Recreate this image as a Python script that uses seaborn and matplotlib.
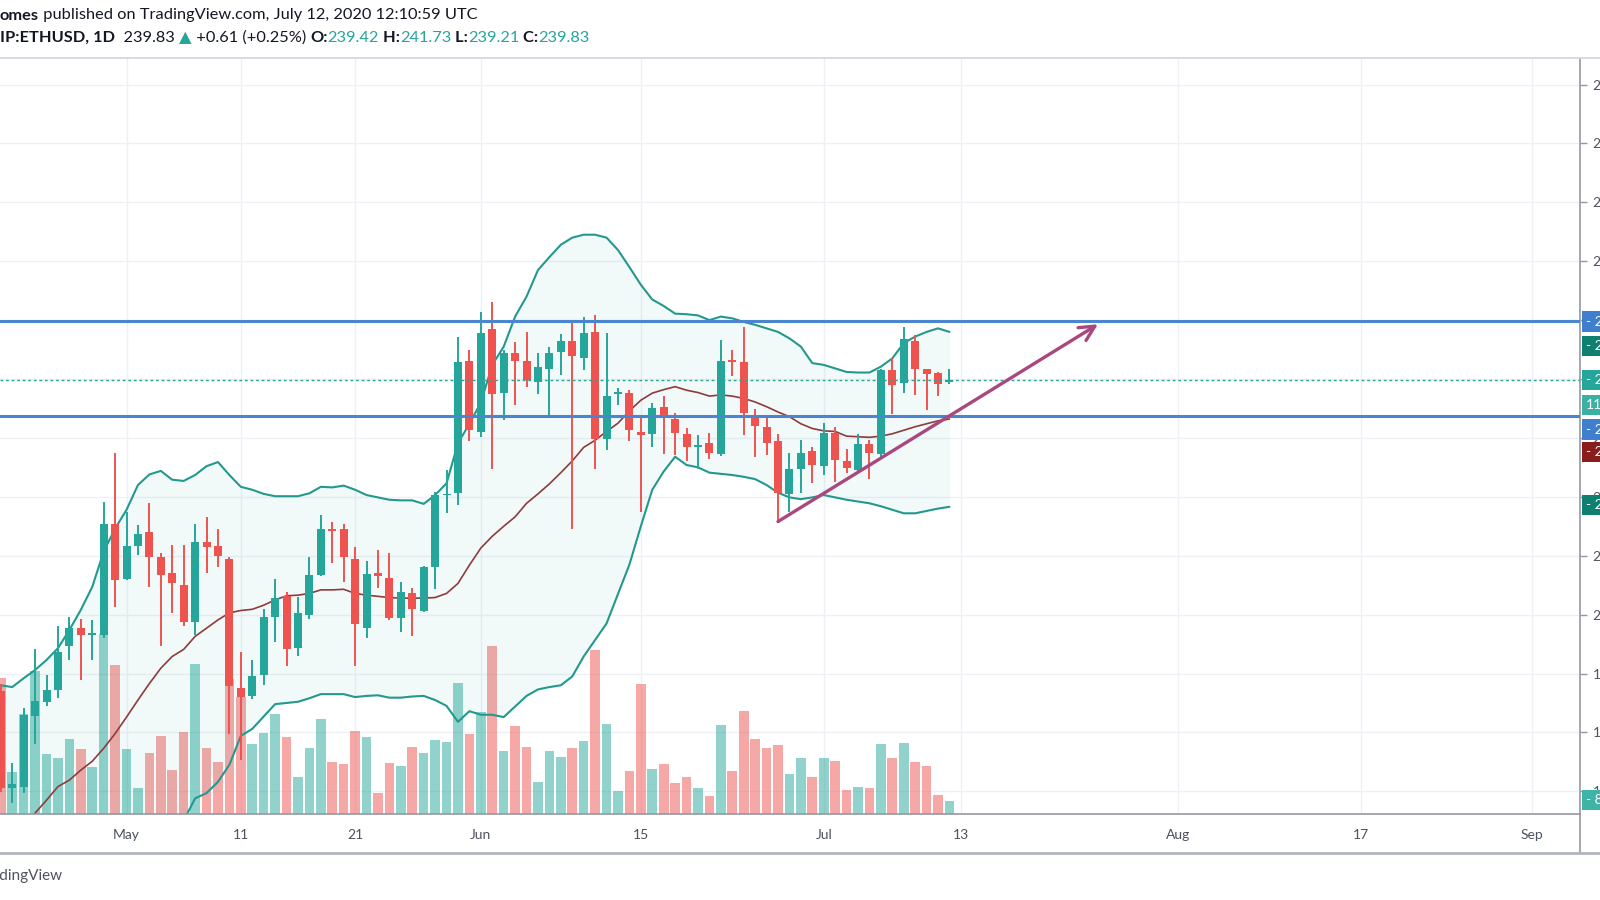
import numpy as np
import pandas as pd
import matplotlib
matplotlib.use("Agg")
import matplotlib.pyplot as plt
import matplotlib.dates as mdates
from matplotlib.lines import Line2D
import seaborn as sns

# ---------------- data ----------------
start_date = "2020-04-20"
end_date = "2020-07-12"

opens = [187.0, 170.5, 170.8, 182.8, 185.2, 187.2, 194.7, 197.7, 196.5, 196.5, 215.4,
         206.0, 211.7, 214.0, 209.7, 207.0, 205.0, 198.7, 212.4, 211.6, 209.5, 187.6, 186.2, 189.7,
         199.6, 203.2, 194.3, 199.9, 206.8, 214.6, 214.6, 209.5, 197.7, 207.1, 206.2, 199.4, 203.6,
         200.6, 208.1, 220.3, 220.7, 243.1,
         231.0, 248.5, 237.6, 244.5, 243.1, 239.5, 241.7, 244.6, 246.5, 243.6, 247.9, 229.8, 237.5,
         237.7, 231.0, 230.7, 235.2, 233.2, 230.7, 228.5, 229.1, 227.3, 243.3, 242.9, 233.6, 231.9,
         229.4, 220.5, 224.8, 227.7,
         225.2, 230.8, 226.1, 224.5, 228.9, 227.3, 241.6, 239.3, 246.5, 241.7, 241.0, 239.42]
highs = [188.2, 174.8, 184.1, 194.2, 189.7, 198.0, 199.6, 199.2, 199.1, 219.2, 227.5,
         217.4, 215.2, 219.0, 210.5, 211.8, 211.8, 215.3, 216.6, 214.5, 209.8, 193.7, 192.3, 200.9,
         206.0, 203.9, 203.0, 209.8, 216.9, 215.8, 215.3, 211.4, 209.1, 211.0, 210.5, 205.5, 204.6,
         208.3, 220.8, 224.5, 247.2, 245.0,
         251.4, 253.1, 244.9, 246.3, 247.9, 244.4, 245.4, 247.6, 249.7, 250.5, 250.9, 247.8, 238.4,
         238.2, 233.3, 235.9, 237.1, 234.3, 231.6, 230.5, 230.9, 246.7, 244.9, 248.9, 234.9, 233.3,
         230.7, 227.5, 229.6, 228.4,
         232.6, 231.9, 228.1, 230.7, 229.6, 241.7, 243.5, 248.8, 247.5, 241.7, 241.2, 241.73]
lows = [169.9, 168.0, 169.7, 178.1, 184.5, 185.8, 192.3, 188.9, 192.3, 196.0, 201.3,
        205.8, 210.1, 204.7, 194.7, 200.3, 198.0, 196.5, 207.0, 208.1, 179.8, 175.3, 185.6, 188.0,
        195.4, 191.2, 192.9, 199.2, 206.5, 208.8, 205.6, 191.2, 196.0, 204.6, 199.1, 197.0, 196.4,
        200.4, 204.3, 217.2, 218.6, 229.4,
        230.2, 224.7, 233.0, 235.6, 238.7, 237.4, 233.7, 240.7, 214.6, 241.5, 224.8, 227.9, 235.6,
        229.5, 217.5, 228.5, 227.3, 227.1, 226.0, 224.8, 226.5, 226.9, 240.5, 230.5, 226.8, 227.1,
        215.6, 217.5, 220.6, 222.3,
        223.7, 222.6, 224.0, 224.3, 223.0, 226.8, 234.1, 237.7, 237.3, 234.7, 237.1, 239.21]
closes = [170.5, 171.2, 183.0, 185.4, 187.2, 193.7, 197.7, 196.5, 196.8, 215.4, 205.9,
          211.7, 213.7, 209.8, 206.7, 205.3, 198.7, 212.3, 211.4, 210.0, 187.8, 186.0, 189.5, 199.6,
          202.8, 194.2, 200.2, 206.7, 214.5, 214.2, 209.7, 198.4, 206.9, 206.6, 199.4, 203.8, 200.9,
          208.1, 220.3, 220.5, 242.9, 231.3,
          247.8, 237.5, 244.4, 243.1, 239.9, 242.0, 244.4, 246.5, 243.9, 247.8, 229.9, 237.1, 237.7,
          231.3, 230.5, 235.0, 233.3, 230.9, 228.4, 228.7, 227.5, 243.1, 242.9, 234.2, 232.1, 229.1,
          220.7, 224.7, 227.5, 225.4,
          230.8, 226.2, 224.9, 228.9, 227.5, 241.6, 239.0, 246.8, 241.7, 240.8, 239.22, 239.83]
volumes_k = [84.1, 25.8, 62.0, 88.7, 37.2, 34.7, 46.5, 40.3, 29.1, 111.6, 92.4,
             40.3, 16.1, 37.8, 48.4, 27.3, 50.8, 93.0, 40.9, 32.2, 83.7, 72.5, 43.4, 50.2,
             62.0, 47.7, 22.9, 40.9, 58.9, 32.2, 31.0, 51.5, 47.7, 13.0, 31.6, 29.8, 41.5,
             37.8, 45.9, 44.6, 81.2, 49.6,
             63.2, 104.2, 39.1, 54.6, 41.5, 19.8, 39.1, 35.3, 40.9, 45.3, 101.7, 55.8, 14.3,
             26.7, 80.6, 27.9, 31.0, 19.2, 22.9, 16.1, 11.2, 55.2, 26.7, 63.9, 46.5, 40.9,
             42.8, 24.8, 34.7, 22.9,
             34.7, 32.9, 14.9, 16.7, 16.1, 43.4, 34.7, 44.0, 32.2, 29.8, 11.8, 8.3]
bb_upper = [188.0, 187.7, 189.2, 190.6, 192.3, 194.3, 197.4, 200.8, 204.7, 210.7, 214.6,
            217.8, 222.0, 223.8, 224.4, 222.9, 222.7, 223.7, 225.2, 225.9, 223.7, 221.7, 221.2, 220.5,
            220.1, 220.1, 220.1, 220.6, 221.7, 221.6, 221.9, 221.2, 220.3, 219.9, 219.5, 219.4, 219.4,
            218.8, 220.3, 222.3, 229.1, 232.4,
            236.0, 242.4, 245.5, 250.6, 254.0, 258.5, 260.7, 262.8, 264.0, 264.5, 264.5, 264.0, 261.9,
            259.0, 256.0, 253.5, 252.4, 251.1, 251.0, 250.8, 250.0, 250.6, 250.3, 249.7, 249.2, 248.6,
            248.0, 246.9, 245.5, 242.7,
            242.4, 241.8, 241.2, 241.1, 241.1, 242.1, 243.5, 246.1, 247.2, 248.0, 248.6, 248.0]
bb_basis = [160.5, 162.5, 164.5, 166.3, 168.5, 170.8, 171.9, 173.6, 175.1, 177.3, 179.8,
            182.6, 185.5, 188.3, 190.9, 192.9, 194.1, 196.3, 197.7, 199.1, 200.3, 200.7, 200.9, 201.6,
            202.5, 203.2, 203.3, 203.6, 204.2, 204.2, 204.3, 203.6, 203.3, 203.1, 202.9, 202.8, 202.8,
            202.8, 202.9, 203.6, 205.3, 208.4,
            211.3, 213.3, 215.0, 216.6, 218.9, 220.5, 222.2, 224.1, 226.1, 228.4, 229.6, 231.1, 232.5,
            234.6, 236.4, 237.6, 238.2, 238.7, 238.1, 237.7, 237.1, 237.3, 237.1, 236.7, 236.1, 235.3,
            234.4, 233.6, 232.4, 231.6,
            231.2, 231.1, 230.3, 230.2, 230.1, 230.3, 230.7, 231.3, 231.9, 232.4, 232.9, 233.2]
bb_lower = [130.0, 131.5, 133.0, 135.0, 137.0, 139.0, 141.0, 143.0, 145.5, 148.0, 150.5,
            153.0, 155.0, 157.5, 160.0, 162.5, 165.0, 168.8, 169.7, 171.6, 174.5, 179.4, 180.6, 182.7,
            184.8, 185.0, 185.2, 185.8, 186.5, 186.5, 186.5, 186.0, 186.2, 186.3, 185.9, 185.9, 186.1,
            186.2, 185.5, 184.5, 181.8, 183.6,
            183.0, 183.0, 182.6, 184.4, 186.2, 187.3, 187.7, 188.0, 189.5, 192.9, 195.7, 198.5, 203.5,
            208.5, 215.0, 221.2, 224.3, 226.8, 225.4, 225.0, 224.1, 223.9, 223.7, 223.4, 223.0, 222.0,
            220.7, 219.9, 219.6, 219.9,
            220.3, 219.9, 219.5, 219.2, 218.9, 218.4, 217.8, 217.2, 217.2, 217.6, 218.0, 218.3]

level_lines = [249.8, 233.8]
last_price = 239.83
trend_start = ("2020-06-27", 215.8)
trend_end = ("2020-07-25", 249.3)

x_tick_dates = ["2020-05-01", "2020-05-11", "2020-05-21", "2020-06-01", "2020-06-15",
                "2020-07-01", "2020-07-13", "2020-08-01", "2020-08-17", "2020-09-01"]
x_tick_labels = ["May", "11", "21", "Jun", "15", "Jul", "13", "Aug", "17", "Sep"]
price_ticks = [170, 180, 190, 200, 210, 220, 230, 240, 250, 260, 270, 280, 290]

header_line1 = [("omes", "bold", "#131722"),
                (" published on TradingView.com, July 12, 2020 12:10:59 UTC", "normal", "#131722")]
header_line2 = [("IP:ETHUSD, 1D", "bold", "#131722"), ("  239.83 ", "normal", "#131722"),
                ("\u25B2", "normal", "#26a69a"), (" +0.61 (+0.25%) ", "normal", "#131722"),
                ("O:", "bold", "#131722"), ("239.42", "normal", "#26a69a"),
                (" H:", "bold", "#131722"), ("241.73", "normal", "#26a69a"),
                (" L:", "bold", "#131722"), ("239.21", "normal", "#26a69a"),
                (" C:", "bold", "#131722"), ("239.83", "normal", "#26a69a")]

# right-side price-scale labels (stacked as on the reference): text, colour
label_texts = ["- 249.80", "- 245.62", "- 239.83", "11:49:01", "- 233.80", "- 227.61",
               "- 218.61", "- 8.27K"]
label_colors = ["#3f7fcd", "#0f7f72", "#26a69a", "#3bb0a3", "#3f7fcd", "#8a1c1c", "#0f7f72",
                "#3fb3a6"]
label_y_px = [321.5, 346, 380, 405, 429.5, 452, 505, 800]   # vertical slots (pixels from top)

# ---------------- style ----------------
sns.set_theme(style="white")
plt.rcParams['font.family'] = ['Lato', 'DejaVu Sans']

UP = "#26a69a"
DOWN = "#ef5350"
W, H = 1600, 900
AX_TOP, AX_BOT, AX_RIGHT = 58, 814, 1580

dates = pd.date_range(start_date, end_date, freq="D")
x = mdates.date2num(dates)
o = np.array(opens); h = np.array(highs); l = np.array(lows); c = np.array(closes)
up = c >= o
cols = np.where(up, UP, DOWN)

fig = plt.figure(figsize=(16, 9), dpi=100)
fig.patch.set_facecolor("white")
rect = [0, (H - AX_BOT) / H, AX_RIGHT / W, (AX_BOT - AX_TOP) / H]
ax_vol = fig.add_axes(rect)
ax = fig.add_axes(rect, sharex=ax_vol)
ax.patch.set_alpha(0)

PMIN, PMAX = 166.15, 294.5
VMAX = (AX_BOT - AX_TOP) * 0.62
may1 = mdates.date2num(pd.Timestamp("2020-05-01"))
ax.set_xlim(may1 - 11.07, may1 + 127.17)
ax.set_ylim(PMIN, PMAX)
ax_vol.set_ylim(0, VMAX)

# grid (drawn on the bottom layer)
for p in price_ticks:
    ax_vol.axhline((p - PMIN) / (PMAX - PMIN) * VMAX, color="#eef0f5", lw=1, zorder=0)
tick_x = mdates.date2num(pd.to_datetime(x_tick_dates))
for tx in tick_x:
    ax_vol.axvline(tx, color="#eef0f5", lw=1, zorder=0)

# volume
ax_vol.bar(x, volumes_k, width=0.84, color=cols, alpha=0.5, lw=0, zorder=1)
ax_vol.set_yticks([])
ax_vol.tick_params(axis="x", bottom=False, labelbottom=False)
for s in ax_vol.spines.values():
    s.set_visible(False)

# bollinger fill and lines
ax.fill_between(x, bb_lower, bb_upper, color=UP, alpha=0.06, lw=0, zorder=1)
sns.lineplot(x=x, y=bb_upper, ax=ax, color="#23998d", lw=1.5, zorder=2)
sns.lineplot(x=x, y=bb_lower, ax=ax, color="#23998d", lw=1.5, zorder=2)
sns.lineplot(x=x, y=bb_basis, ax=ax, color="#8e3b3b", lw=1.2, zorder=2)

# candles
ax.vlines(x, l, h, colors=cols, lw=1.4, zorder=3)
body = np.maximum(np.abs(c - o), 0.25)
ax.bar(x, body, bottom=np.minimum(o, c), width=0.7, color=cols, lw=0, zorder=4)

# level lines and last-price line
for lv in level_lines:
    ax.axhline(lv, color="#4a86d0", lw=2.2, zorder=5)
ax.axhline(last_price, color=UP, lw=1, ls=(0, (2, 2)), zorder=5)

# trend arrow
xs = mdates.date2num(pd.Timestamp(trend_start[0]))
xe = mdates.date2num(pd.Timestamp(trend_end[0]))
ax.annotate("", xy=(xe, trend_end[1]), xytext=(xs, trend_start[1]),
            arrowprops=dict(arrowstyle="->,head_length=0.9,head_width=0.45", color="#a8487f",
                            lw=2.4, shrinkA=0, shrinkB=0), zorder=6)

# axes styling
ax.set_xticks(tick_x)
ax.set_xticklabels(x_tick_labels)
ax.tick_params(axis="x", direction="out", length=4, width=1, color="#9598a1", pad=7,
               labelsize=10, labelcolor="#4c525e")
ax.set_yticks(price_ticks)
ax.set_yticklabels([f"{p:.2f}" for p in price_ticks])
ax.tick_params(axis="y", left=False, labelleft=False, right=True, labelright=True,
               direction="out", length=5, width=1, color="#9598a1", pad=4,
               labelsize=10, labelcolor="#4c525e")
ax.set_xlabel(""); ax.set_ylabel("")
ax.spines["left"].set_visible(False)
ax.spines["right"].set_color("#9598a1")
ax.spines["bottom"].set_color("#9598a1")
ax.spines["top"].set_color("#d1d4dc")
for s in ["right", "bottom", "top"]:
    ax.spines[s].set_linewidth(1.2)
ax.grid(False)

# right price-scale labels (tick dash drawn inside the box, as on the reference)
for ypx, txt, colr in zip(label_y_px, label_texts, label_colors):
    fig.text((AX_RIGHT + 6) / W, 1 - ypx / H, txt, ha="left", va="center",
             fontsize=10, color="white", zorder=10,
             bbox=dict(boxstyle="square,pad=0.3", fc=colr, ec="none"))

# frame lines outside the axes
fig.add_artist(Line2D([AX_RIGHT / W, AX_RIGHT / W], [1 - AX_BOT / H, 1 - 853 / H],
                      color="#9598a1", lw=1.2))
fig.add_artist(Line2D([0, 1], [1 - 853 / H, 1 - 853 / H], color="#b2b5be", lw=2))
fig.add_artist(Line2D([AX_RIGHT / W, 1], [1 - AX_TOP / H, 1 - AX_TOP / H], color="#d1d4dc", lw=1.2))

# header texts
renderer = fig.canvas.get_renderer()


def draw_pieces(pieces, y_px, size):
    xpos = 0.0
    for txt, weight, colr in pieces:
        t = fig.text(xpos / W, 1 - y_px / H, txt, ha="left", va="center", fontsize=size,
                     fontweight=weight, color=colr)
        bb = t.get_window_extent(renderer)
        xpos = bb.x1


draw_pieces(header_line1, 15.5, 11.8)
draw_pieces(header_line2, 38, 11.8)

fig.text(63 / W, 1 - 876 / H, "TradingView", ha="right", va="center", fontsize=11,
         color="#50535e")

fig.savefig("out.png", dpi=100, facecolor="white")
